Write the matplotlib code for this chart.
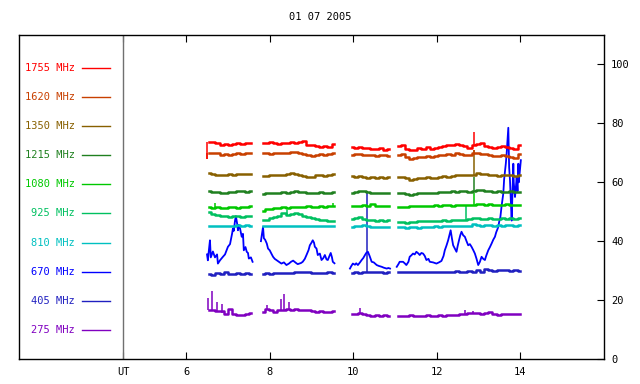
import numpy as np
import matplotlib
matplotlib.use("Agg")
import matplotlib.pyplot as plt

title = "01 07 2005"
labels = ["1755 MHz", "1620 MHz", "1350 MHz", "1215 MHz", "1080 MHz",
          "925 MHz", "810 MHz", "670 MHz", "405 MHz", "275 MHz"]
colors = ["#ff0000", "#c84000", "#886000", "#208020", "#00c800",
          "#00c060", "#00c0c0", "#0000ff", "#2020c0", "#8000c0"]
x_ticks = [6, 8, 10, 12, 14]
y_ticks = [0, 20, 40, 60, 80, 100]

# sampling grid of the four observing segments: (start UT, end UT, number of samples)
seg_grid = [(6.55, 7.55, 11), (7.83, 9.53, 18), (9.96, 10.86, 10), (11.08, 13.98, 30)]

f1755 = [
    [73.7, 73.8, 73.5, 72.8, 73.0, 72.7, 73.1, 73.2, 72.9, 73.3, 73.5],
    [73.5, 73.2, 73.6, 73.3, 73.1, 73.4, 73.3, 73.6, 73.5, 73.8, 73.9, 72.6, 72.8, 72.3, 72.0, 72.4, 72.1, 72.9],
    [71.9, 71.7, 72.0, 71.5, 71.8, 71.4, 71.3, 71.5, 71.1, 71.3],
    [72.3, 72.5, 71.4, 70.8, 71.1, 71.6, 71.4, 72.0, 71.4, 71.6, 72.0, 72.3, 72.7, 72.5, 72.9,
     72.5, 72.3, 71.8, 72.6, 72.9, 73.2, 72.3, 72.0, 71.8, 72.0, 72.3, 72.0, 71.8, 71.4, 72.5],
]
f1620 = [
    [70.0, 70.1, 69.9, 69.4, 69.6, 69.4, 69.7, 69.8, 69.6, 69.9, 70.1],
    [69.8, 69.9, 69.7, 69.9, 70.0, 69.8, 70.1, 70.3, 70.2, 70.0, 69.5, 69.2, 69.0, 69.3, 69.5, 69.2, 69.6, 69.9],
    [69.3, 69.6, 69.7, 69.4, 69.1, 69.2, 68.9, 69.1, 69.3, 69.0],
    [69.2, 69.5, 68.7, 67.8, 68.4, 68.6, 68.5, 68.9, 68.7, 69.0, 69.2, 69.1, 69.5, 69.4, 69.8,
     69.5, 69.3, 69.1, 69.8, 69.9, 69.6, 69.7, 69.2, 69.0, 68.8, 69.1, 69.0, 68.7, 68.4, 69.5],
]
f1350 = [
    [63.1, 62.8, 62.4, 62.6, 62.5, 62.7, 62.6, 62.8, 62.7, 62.9, 62.8],
    [62.0, 62.2, 62.3, 62.5, 62.4, 62.6, 62.7, 63.0, 62.9, 62.6, 62.1, 61.8, 61.9, 62.3, 62.4, 62.2, 62.6, 62.8],
    [62.0, 61.7, 62.0, 61.9, 61.6, 61.8, 61.5, 61.7, 61.6, 61.8],
    [61.8, 61.9, 61.3, 60.9, 61.2, 61.5, 61.5, 61.7, 61.6, 61.6, 61.8, 62.0, 61.8, 62.1, 62.3,
     62.5, 62.3, 62.4, 62.6, 63.0, 62.9, 62.8, 62.6, 62.4, 62.2, 62.6, 62.5, 62.4, 62.0, 62.6],
]
f1215 = [
    [57.0, 56.8, 56.6, 56.2, 56.4, 56.6, 56.8, 56.9, 57.1, 56.8, 56.9],
    [55.9, 56.2, 56.3, 56.5, 56.4, 56.6, 56.5, 56.8, 56.9, 56.7, 56.8, 56.5, 56.3, 56.4, 56.6, 56.3, 56.5, 56.7],
    [56.5, 56.7, 56.9, 57.0, 56.6, 56.4, 56.3, 56.5, 56.4, 56.5],
    [56.4, 56.3, 56.0, 55.8, 55.9, 56.2, 56.4, 56.3, 56.5, 56.4, 56.7, 56.8, 56.7, 56.9, 56.8,
     57.0, 56.9, 56.8, 57.1, 57.3, 57.4, 57.1, 57.0, 56.8, 57.0, 56.8, 56.6, 56.9, 56.7, 56.8],
]
f1080 = [
    [51.6, 51.4, 51.5, 51.1, 51.3, 51.5, 51.6, 51.4, 51.7, 51.6, 51.8],
    [50.4, 50.8, 51.0, 51.2, 51.3, 51.5, 51.4, 51.6, 51.7, 51.5, 51.6, 51.8, 51.7, 51.6, 51.8, 51.7, 51.9, 51.8],
    [51.9, 52.1, 52.0, 52.2, 52.0, 52.6, 52.1, 51.9, 52.0, 51.9],
    [51.5, 51.7, 51.6, 51.8, 51.9, 52.0, 51.9, 52.1, 52.0, 52.2, 52.1, 52.2, 52.3, 52.1, 52.2,
     52.4, 52.2, 52.3, 52.4, 52.6, 52.5, 52.4, 52.5, 52.3, 52.4, 52.2, 52.5, 52.3, 52.2, 52.4],
]
f925 = [
    [49.9, 49.2, 48.9, 48.6, 48.4, 48.2, 48.5, 48.7, 48.3, 48.5, 48.4],
    [47.1, 47.3, 47.8, 48.2, 48.4, 49.4, 49.0, 49.3, 49.6, 49.1, 48.6, 48.2, 47.9, 47.6, 47.3, 47.1, 46.8, 47.0],
    [47.5, 47.8, 48.2, 47.5, 47.3, 47.2, 47.0, 47.1, 47.0, 47.1],
    [46.6, 46.5, 46.3, 46.6, 46.5, 46.7, 46.8, 46.9, 47.0, 46.9, 47.0, 47.1, 47.0, 47.2, 47.1,
     47.3, 47.3, 47.4, 47.8, 47.8, 47.6, 47.7, 47.8, 47.7, 47.6, 47.8, 47.7, 47.9, 47.7, 47.8],
]
f810 = [
    [45.1, 45.3, 45.0, 45.2, 45.1, 45.3, 45.2, 45.4, 45.2, 45.5, 45.2],
    [45.0, 45.2, 45.1, 45.3, 45.2, 45.1, 45.3, 45.2, 45.0, 45.2, 45.1, 45.3, 45.1, 45.2, 45.0, 45.2, 45.1, 45.2],
    [44.9, 45.0, 45.3, 45.4, 45.0, 44.8, 44.7, 44.8, 44.7, 44.8],
    [44.8, 44.7, 44.6, 44.8, 44.7, 44.6, 44.8, 44.9, 44.8, 45.0, 44.9, 45.0, 45.1, 45.0, 45.2,
     45.1, 45.3, 45.2, 45.8, 45.4, 45.3, 45.4, 45.5, 45.3, 45.4, 45.3, 45.5, 45.4, 45.3, 45.4],
]
f405 = [
    [29.0, 28.6, 29.1, 28.7, 29.6, 29.0, 28.7, 29.2, 28.8, 29.3, 28.8],
    [28.9, 29.1, 29.0, 29.3, 29.1, 29.2, 29.1, 29.3, 29.5, 29.6, 29.6, 29.5, 29.3, 29.2, 29.3, 29.2, 29.4, 29.1],
    [29.2, 29.4, 29.3, 29.5, 29.4, 29.6, 29.4, 29.5, 29.3, 29.4],
    [29.4, 29.5, 29.6, 29.5, 29.7, 29.6, 29.5, 29.7, 29.6, 29.5, 29.6, 29.7, 29.6, 29.5, 29.8,
     29.7, 29.4, 29.9, 29.5, 30.2, 29.4, 30.6, 30.3, 30.0, 30.2, 30.1, 30.3, 30.0, 30.1, 29.8],
]
f275 = [
    [16.6, 16.8, 16.2, 16.3, 15.3, 17.0, 15.4, 14.9, 15.0, 15.2, 15.6],
    [16.0, 17.0, 16.8, 15.9, 16.5, 16.8, 17.0, 16.6, 17.0, 16.7, 16.8, 16.5, 16.3, 16.0, 16.2, 16.0, 15.9, 16.4],
    [15.4, 15.2, 15.5, 15.3, 15.1, 14.7, 14.8, 14.6, 14.8, 14.7],
    [14.6, 14.7, 14.6, 14.8, 14.7, 14.6, 14.7, 14.8, 14.7, 14.6, 14.8, 14.7, 14.8, 14.9, 15.0,
     15.2, 15.4, 15.5, 15.6, 15.6, 15.4, 15.6, 16.0, 15.2, 15.1, 15.3, 15.2, 15.4, 15.3, 15.3],
]

# single-sample spikes: (series, UT, base value, peak value)
spikes = [
    ("1755 MHz", 6.50, 68.0, 73.7), ("1620 MHz", 6.50, 68.0, 70.0),
    ("1755 MHz", 12.88, 72.5, 77.2), ("1620 MHz", 12.88, 69.3, 71.0),
    ("1350 MHz", 12.88, 62.4, 70.8), ("1215 MHz", 12.88, 56.8, 61.8),
    ("1080 MHz", 12.88, 52.3, 56.5), ("1080 MHz", 6.69, 51.5, 53.0),
    ("1080 MHz", 9.51, 51.8, 53.0), ("925 MHz", 12.69, 47.3, 52.0),
    ("925 MHz", 8.41, 49.0, 50.5), ("405 MHz", 10.33, 29.5, 57.0),
    ("275 MHz", 6.52, 16.6, 20.7), ("275 MHz", 6.61, 16.5, 23.0),
    ("275 MHz", 6.73, 16.2, 19.4), ("275 MHz", 6.86, 15.5, 18.7),
    ("275 MHz", 7.93, 16.8, 18.3), ("275 MHz", 8.27, 16.6, 20.5),
    ("275 MHz", 8.34, 16.7, 22.0), ("275 MHz", 8.45, 16.8, 19.5),
    ("275 MHz", 10.16, 15.3, 17.2), ("275 MHz", 12.67, 15.3, 16.6),
    ("275 MHz", 12.86, 15.5, 16.4),
]

# 670 MHz: read at irregular UT times
t670 = [
    [6.50, 6.52, 6.545, 6.57, 6.59, 6.64, 6.69, 6.74, 6.76, 6.81, 6.88, 6.93, 7.00, 7.05, 7.10, 7.12,
     7.14, 7.17, 7.19, 7.22, 7.24, 7.26, 7.29, 7.33, 7.36, 7.38, 7.42, 7.45, 7.48, 7.50, 7.55, 7.59],
    [7.79, 7.81, 7.84, 7.86, 7.89, 7.93, 7.96, 8.00, 8.05, 8.08, 8.12, 8.16, 8.22, 8.28, 8.34, 8.40,
     8.46, 8.51, 8.56, 8.63, 8.67, 8.75, 8.79, 8.84, 8.88, 8.93, 8.96, 9.00, 9.03, 9.06, 9.08, 9.12,
     9.15, 9.20, 9.24, 9.28, 9.32, 9.36, 9.39, 9.43, 9.46, 9.49, 9.51, 9.55],
    [9.92, 9.95, 9.99, 10.04, 10.07, 10.11, 10.16, 10.20, 10.24, 10.28, 10.31, 10.35, 10.39, 10.44,
     10.49, 10.56, 10.61, 10.68, 10.73, 10.80, 10.84, 10.88],
    [11.04, 11.08, 11.11, 11.19, 11.23, 11.27, 11.32, 11.35, 11.39, 11.43, 11.47, 11.51, 11.56, 11.59,
     11.63, 11.67, 11.71, 11.75, 11.80, 11.83, 11.91, 11.99, 12.05, 12.11, 12.16, 12.19, 12.23, 12.27,
     12.30, 12.33, 12.36, 12.39, 12.43, 12.47, 12.50, 12.53, 12.56, 12.59, 12.63, 12.67, 12.71, 12.75,
     12.79, 12.83, 12.87, 12.91, 12.95, 12.99, 13.03, 13.07, 13.11, 13.15, 13.18, 13.23, 13.27, 13.31,
     13.35, 13.39, 13.42, 13.47, 13.49, 13.52, 13.55, 13.59, 13.61, 13.65, 13.67, 13.71, 13.73, 13.75,
     13.77, 13.79, 13.83, 13.84, 13.87, 13.89, 13.91, 13.93, 13.95, 13.96, 13.98, 14.01],
]
v670 = [
    [35.5, 33.5, 37.0, 40.3, 34.5, 36.5, 34.5, 35.5, 32.4, 33.5, 34.7, 35.5, 38.1, 39.0, 42.6, 44.3,
     43.5, 47.0, 48.5, 46.0, 43.7, 45.5, 44.3, 41.5, 42.5, 36.9, 38.0, 36.4, 36.0, 34.1, 34.5, 33.0],
    [40.0, 42.0, 44.8, 41.0, 40.5, 39.2, 37.5, 36.9, 35.5, 34.7, 34.0, 33.6, 33.0, 32.4, 32.8, 31.9,
     32.4, 33.0, 33.4, 32.6, 32.2, 32.6, 33.0, 34.0, 35.3, 37.0, 38.6, 39.5, 40.3, 39.5, 38.1, 37.5,
     35.3, 35.8, 33.6, 34.2, 35.3, 33.8, 33.6, 35.0, 36.0, 34.5, 33.0, 32.5],
    [30.7, 31.5, 32.4, 32.0, 32.5, 31.9, 32.8, 33.6, 34.3, 35.3, 36.0, 36.4, 35.0, 33.0,
     32.8, 31.9, 31.6, 31.3, 31.0, 30.7, 30.9, 30.7],
    [31.3, 32.2, 33.0, 33.0, 32.5, 31.9, 33.0, 34.7, 35.2, 35.8, 35.5, 36.4, 35.8, 35.3,
     36.0, 35.8, 35.0, 33.6, 34.0, 33.0, 32.8, 32.4, 32.8, 33.3, 35.0, 36.9, 38.5, 40.3,
     42.0, 43.7, 41.0, 38.6, 37.5, 36.4, 38.5, 40.3, 42.0, 43.2, 42.0, 41.5, 40.0, 38.6,
     39.0, 38.1, 37.0, 35.8, 34.0, 31.9, 33.0, 34.7, 34.0, 33.6, 35.0, 36.9, 38.0, 39.2,
     40.5, 41.5, 43.0, 44.8, 46.5, 48.2, 52.0, 56.2, 61.0, 66.3, 69.7, 78.5, 65.0, 60.7,
     53.9, 47.0, 66.3, 60.0, 55.0, 58.0, 61.8, 57.0, 66.3, 60.0, 62.9, 67.5],
]

flat_series = {"275 MHz": f275, "405 MHz": f405, "810 MHz": f810, "925 MHz": f925,
               "1080 MHz": f1080, "1215 MHz": f1215, "1350 MHz": f1350,
               "1620 MHz": f1620, "1755 MHz": f1755}
color_of = dict(zip(labels, colors))

fig = plt.figure(figsize=(6.4, 3.84), dpi=100)
ax = fig.add_axes([19 / 640, 1 - 359 / 384, 585 / 640, 324 / 384])
ax.set_xlim(2, 16)
ax.set_ylim(0, 110)

seg_times = [np.linspace(a, b, n) for a, b, n in seg_grid]

draw_order = ["275 MHz", "405 MHz", "670 MHz", "810 MHz", "925 MHz",
              "1080 MHz", "1215 MHz", "1350 MHz", "1620 MHz", "1755 MHz"]
for name in draw_order:
    c = color_of[name]
    if name == "670 MHz":
        for t, v in zip(t670, v670):
            ax.plot(t, v, color=c, lw=1.3)
    else:
        for t, v in zip(seg_times, flat_series[name]):
            ax.plot(t, v, color=c, lw=1.8, drawstyle="steps-mid")
        for s_name, t, lo, hi in spikes:
            if s_name == name:
                ax.vlines(t, lo, hi, color=c, lw=1.1)

# legend panel at the left of the UT separator
mono = "DejaVu Sans Mono"
for i, (lab, c) in enumerate(zip(labels, colors)):
    yv = 98.9 - 9.9 * i
    ax.text(3.34, yv, lab, color=c, ha="right", va="center", fontsize=7.5, family=mono)
    ax.plot([3.51, 4.18], [yv, yv], color=c, lw=1.0)

ax.axvline(4.5, color="#707070", lw=1.0)

ax.set_xticks([4.5] + x_ticks)
ax.set_xticklabels(["UT"] + [str(v) for v in x_ticks], family=mono, fontsize=7.5)
ax.tick_params(axis="x", direction="in", length=5, top=True, bottom=True, pad=6, width=0.8)
ax.yaxis.tick_right()
ax.set_yticks(y_ticks)
ax.set_yticklabels([str(v) for v in y_ticks], family=mono, fontsize=7.5)
ax.tick_params(axis="y", direction="in", length=5, left=False, right=True, pad=5, width=0.8)
for s in ax.spines.values():
    s.set_linewidth(1.0)

fig.text(0.5, 1 - 17 / 384, title, ha="center", va="center", fontsize=7.5, family=mono)

fig.savefig("out.png", dpi=100)
